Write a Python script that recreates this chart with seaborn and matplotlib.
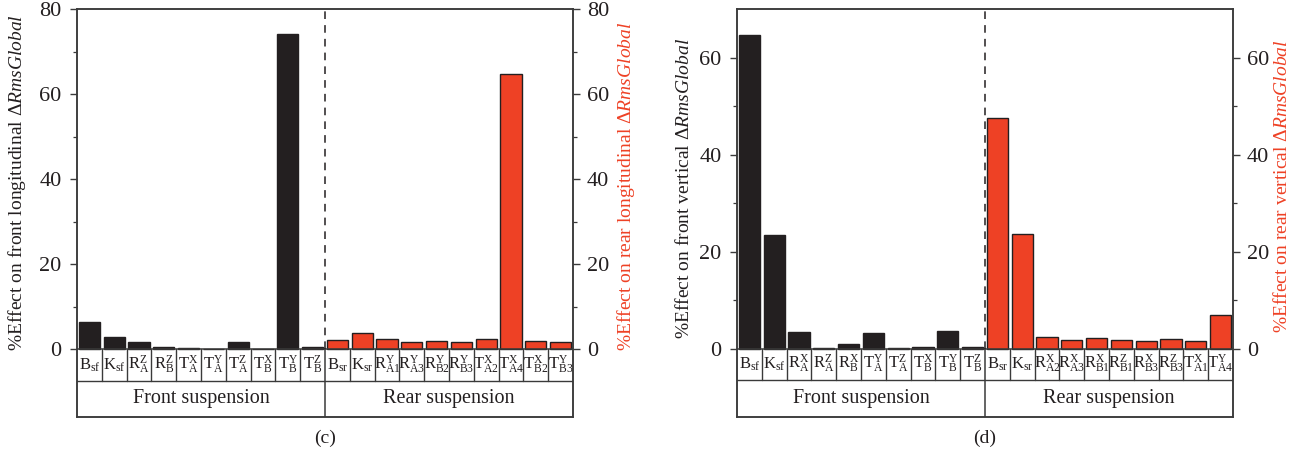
import matplotlib
matplotlib.use("Agg")
import matplotlib.pyplot as plt
import seaborn as sns
import pandas as pd
import numpy as np

# ---- data -------------------------------------------------------------
# (c) longitudinal sensitivities
c_front_labels = [r"$\mathregular{B_{sf}}$", r"$\mathregular{K_{sf}}$", r"$\mathregular{R_A^Z}$",
                  r"$\mathregular{R_B^Z}$", r"$\mathregular{T_A^X}$", r"$\mathregular{T_A^Y}$",
                  r"$\mathregular{T_A^Z}$", r"$\mathregular{T_B^X}$", r"$\mathregular{T_B^Y}$",
                  r"$\mathregular{T_B^Z}$"]
c_front_values = [6.3, 2.8, 1.7, 0.55, 0.15, 0.05, 1.7, 0.1, 74.1, 0.4]
c_rear_labels = [r"$\mathregular{B_{sr}}$", r"$\mathregular{K_{sr}}$", r"$\mathregular{R_{A1}^Y}$",
                 r"$\mathregular{R_{A3}^Y}$", r"$\mathregular{R_{B2}^Y}$", r"$\mathregular{R_{B3}^Y}$",
                 r"$\mathregular{T_{A2}^X}$", r"$\mathregular{T_{A4}^X}$", r"$\mathregular{T_{B2}^X}$",
                 r"$\mathregular{T_{B3}^Y}$"]
c_rear_values = [2.1, 3.85, 2.3, 1.7, 2.0, 1.65, 2.3, 64.7, 1.95, 1.55]

# (d) vertical sensitivities
d_front_labels = [r"$\mathregular{B_{sf}}$", r"$\mathregular{K_{sf}}$", r"$\mathregular{R_A^X}$",
                  r"$\mathregular{R_A^Z}$", r"$\mathregular{R_B^X}$", r"$\mathregular{T_A^Y}$",
                  r"$\mathregular{T_A^Z}$", r"$\mathregular{T_B^X}$", r"$\mathregular{T_B^Y}$",
                  r"$\mathregular{T_B^Z}$"]
d_front_values = [64.6, 23.4, 3.35, 0.2, 1.0, 3.15, 0.2, 0.4, 3.55, 0.3]
d_rear_labels = [r"$\mathregular{B_{sr}}$", r"$\mathregular{K_{sr}}$", r"$\mathregular{R_{A2}^X}$",
                 r"$\mathregular{R_{A3}^X}$", r"$\mathregular{R_{B1}^X}$", r"$\mathregular{R_{B1}^Z}$",
                 r"$\mathregular{R_{B3}^X}$", r"$\mathregular{R_{B3}^Z}$", r"$\mathregular{T_{A1}^X}$",
                 r"$\mathregular{T_{A4}^Y}$"]
d_rear_values = [47.5, 23.6, 2.4, 1.75, 2.25, 1.75, 1.6, 1.9, 1.55, 6.85]

group_names = ["Front suspension", "Rear suspension"]

BLACK = "#231f20"
RED = "#ee4125"
AXC = "#3a3a3a"
FW, FH = 13.14, 4.57

sns.set_theme(style="white")
plt.rcParams["font.family"] = ["Liberation Serif", "DejaVu Serif"]
plt.rcParams["mathtext.fontset"] = "custom"
plt.rcParams["mathtext.rm"] = "Liberation Serif"
plt.rcParams["mathtext.it"] = "Liberation Serif:italic"
plt.rcParams["axes.edgecolor"] = AXC
plt.rcParams["axes.linewidth"] = 1.1

fig = plt.figure(figsize=(FW, FH), dpi=100)


def panel(rect, front_labels, front_values, rear_labels, rear_values,
          ylim, yticks, left_label, right_label, caption, label_row_px,
          left_label_pos, right_label_pos):
    ax = fig.add_axes(rect)
    n_f, n_r = len(front_values), len(rear_values)
    keys = [f"f{i}" for i in range(n_f)] + [f"r{i}" for i in range(n_r)]
    df = pd.DataFrame({
        "key": keys,
        "value": list(front_values) + list(rear_values),
        "group": [group_names[0]] * n_f + [group_names[1]] * n_r,
    })
    sns.barplot(data=df, x="key", y="value", hue="group", order=keys,
                palette={group_names[0]: BLACK, group_names[1]: RED},
                dodge=False, width=0.86, saturation=1, edgecolor=BLACK,
                linewidth=1.0, legend=False, ax=ax, zorder=3)
    n = n_f + n_r
    ax.set_xlim(-0.5, n - 0.5)
    ax.set_ylim(*ylim)
    ax.set_xlabel("")
    ax.set_xticks([])

    # pixel -> data conversion along y
    h_px = rect[3] * FH * 100
    upp = (ylim[1] - ylim[0]) / h_px
    row_bottom = -label_row_px * upp

    ax.set_yticks(yticks)
    ax.set_yticks(np.arange(0, yticks[-1] + 1, 10), minor=True)
    ax.tick_params(axis="y", which="major", direction="out", length=5, width=1.0,
                   color=AXC, labelsize=16, pad=6, left=True, labelcolor=BLACK)
    ax.tick_params(axis="y", which="minor", direction="out", length=3, width=0.9,
                   color=AXC, left=True)
    ax.set_ylabel(left_label, fontsize=14, color=BLACK)
    ax.yaxis.set_label_coords(*left_label_pos)
    for s in ax.spines.values():
        s.set_visible(True)
        s.set_color(AXC)

    # secondary axis with the rear scale
    ax2 = ax.twinx()
    ax2.set_ylim(*ylim)
    ax2.set_yticks(yticks)
    ax2.set_yticks(np.arange(0, yticks[-1] + 1, 10), minor=True)
    ax2.tick_params(axis="y", which="major", direction="out", length=5, width=1.0,
                    color=AXC, labelsize=16, pad=5, right=True, labelcolor=BLACK)
    ax2.tick_params(axis="y", which="minor", direction="out", length=3, width=0.9,
                    color=AXC, right=True)
    ax2.set_ylabel(right_label, fontsize=14, color=RED)
    ax2.yaxis.set_label_coords(*right_label_pos)
    for s in ax2.spines.values():
        s.set_color(AXC)

    # table below the bars
    ax.axhline(0, color=AXC, lw=1.1, zorder=4)
    ax.axhline(row_bottom, color=AXC, lw=1.0, zorder=4)
    for b in np.arange(0.5, n - 1, 1.0):
        if abs(b - (n_f - 0.5)) < 1e-6:
            ax.plot([b, b], [ylim[0], 0], color=AXC, lw=1.1, zorder=4)
            ax.plot([b, b], [0, ylim[1]], color=BLACK, lw=1.1, ls=(0, (5, 4)), zorder=4)
        else:
            ax.plot([b, b], [row_bottom, 0], color=AXC, lw=1.0, zorder=4)
    labels = list(front_labels) + list(rear_labels)
    for i, lab in enumerate(labels):
        ax.text(i, row_bottom / 2, lab, ha="center", va="center", fontsize=12,
                color=BLACK)
    sec_mid = (row_bottom + ylim[0]) / 2
    ax.text((n_f - 1) / 2, sec_mid, group_names[0], ha="center", va="center",
            fontsize=14.5, color=BLACK)
    ax.text(n_f + (n_r - 1) / 2, sec_mid, group_names[1], ha="center", va="center",
            fontsize=14.5, color=BLACK)

    # caption
    fig.text(rect[0] + rect[2] / 2, 1 - 438 / (FH * 100), caption,
             ha="center", va="center", fontsize=14, color=BLACK)
    return ax


bottom = 40 / 457
height = (457 - 40 - 9) / 457
panel([77 / 1314, bottom, 496 / 1314, height],
      c_front_labels, c_front_values, c_rear_labels, c_rear_values,
      (-16.0, 80.0), [0, 20, 40, 60, 80],
      r"%Effect on front longitudinal $\mathit{ΔRmsGlobal}$",
      r"%Effect on rear longitudinal $\mathit{ΔRmsGlobal}$",
      "(c)", 32, (-0.099, 0.575), (1.085, 0.565))
panel([737 / 1314, bottom, 496 / 1314, height],
      d_front_labels, d_front_values, d_rear_labels, d_rear_values,
      (-14.1, 70.0), [0, 20, 40, 60],
      r"%Effect on front vertical $\mathit{ΔRmsGlobal}$",
      r"%Effect on rear vertical $\mathit{ΔRmsGlobal}$",
      "(d)", 31, (-0.089, 0.56), (1.081, 0.565))

fig.savefig("out.png", dpi=100)
